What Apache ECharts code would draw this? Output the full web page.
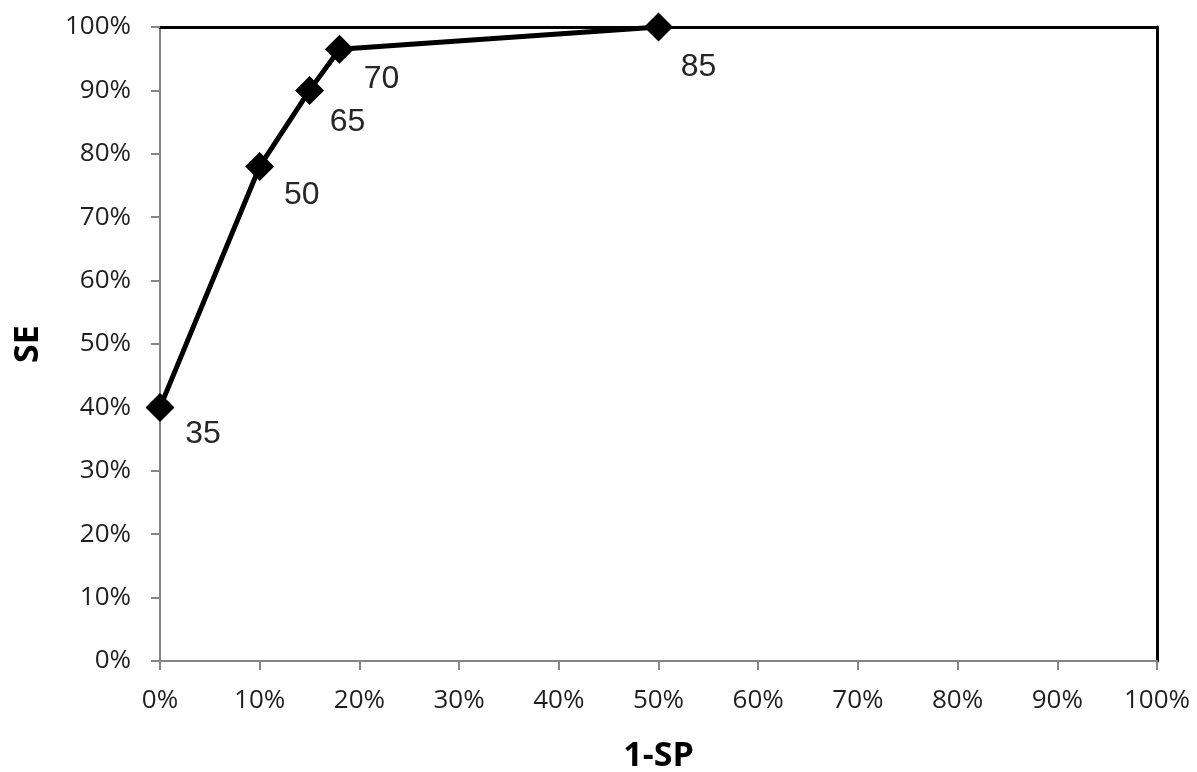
<!DOCTYPE html>
<html>
<head>
<meta charset="utf-8">
<script src="https://cdn.jsdelivr.net/npm/echarts@6/dist/echarts.min.js"></script>
<style>
html,body{margin:0;padding:0;background:#fff;}
#chart{width:1197px;height:772px;}
</style>
</head>
<body>
<div id="chart"></div>
<script>
// Data
const xValues = [0, 10, 15, 18, 50];          // 1-SP (%)
const yValues = [40, 78, 90, 96.5, 100];       // SE (%)
const pointLabels = ['35', '50', '65', '70', '85'];
const xTicks = [0, 10, 20, 30, 40, 50, 60, 70, 80, 90, 100];
const yTicks = [0, 10, 20, 30, 40, 50, 60, 70, 80, 90, 100];
const xTitle = '1-SP';
const yTitle = 'SE';

const labelOffsets = [[43, 27], [42, 29], [38, 32], [42, 30], [40, 40]];

const seriesData = xValues.map((x, i) => ({
  value: [x, yValues[i]],
  label: { offset: labelOffsets[i] }
}));

const chart = echarts.init(document.getElementById('chart'), null, {renderer: 'canvas'});
const tickFont = '"Open Sans", "Liberation Sans", sans-serif';
const option = {
  backgroundColor: '#ffffff',
  animation: false,
  grid: { left: 160, right: 40, top: 27, bottom: 111, outerBoundsMode: 'none', containLabel: false },
  xAxis: [{
    type: 'value', min: 0, max: 100, interval: 10,
    name: xTitle, nameLocation: 'middle', nameGap: 78,
    nameTextStyle: { fontFamily: tickFont, fontWeight: 'bold', fontSize: 34, color: '#000' },
    axisLine: { show: true, lineStyle: { color: '#868686', width: 2 } },
    axisTick: { show: true, length: 9, lineStyle: { color: '#868686', width: 2 } },
    axisLabel: { formatter: v => xTicks.includes(v) ? v + '%' : '', margin: 27, fontFamily: tickFont, fontSize: 26, color: '#1f1f1f' },
    splitLine: { show: false }
  }, {
    type: 'value', min: 0, max: 100, position: 'top',
    axisLine: { show: true, onZero: false, lineStyle: { color: '#000', width: 3 } },
    axisTick: { show: false }, axisLabel: { show: false }, splitLine: { show: false }
  }],
  yAxis: [{
    type: 'value', min: 0, max: 100, interval: 10,
    name: yTitle, nameLocation: 'middle', nameGap: 115, nameRotate: 90,
    nameTextStyle: { fontFamily: tickFont, fontWeight: 'bold', fontSize: 34, color: '#000' },
    axisLine: { show: true, lineStyle: { color: '#868686', width: 2 } },
    axisTick: { show: true, length: 9, lineStyle: { color: '#868686', width: 2 } },
    axisLabel: { formatter: v => yTicks.includes(v) ? v + '%' : '', margin: 29, fontFamily: tickFont, fontSize: 26, color: '#1f1f1f' },
    splitLine: { show: false }
  }, {
    type: 'value', min: 0, max: 100, position: 'right',
    axisLine: { show: true, onZero: false, lineStyle: { color: '#000', width: 3 } },
    axisTick: { show: false }, axisLabel: { show: false }, splitLine: { show: false }
  }],
  series: [{
    type: 'line',
    xAxisIndex: 0, yAxisIndex: 0,
    data: seriesData,
    symbol: 'diamond',
    symbolSize: [29, 29],
    lineStyle: { color: '#000', width: 5 },
    itemStyle: { color: '#000' },
    label: {
      show: true,
      position: 'inside',
      align: 'center',
      verticalAlign: 'middle',
      formatter: p => pointLabels[p.dataIndex],
      fontFamily: '"Liberation Sans", Arial, sans-serif',
      fontSize: 32,
      color: '#262626'
    },
    z: 5
  }]
};
chart.setOption(option);
</script>
</body>
</html>
